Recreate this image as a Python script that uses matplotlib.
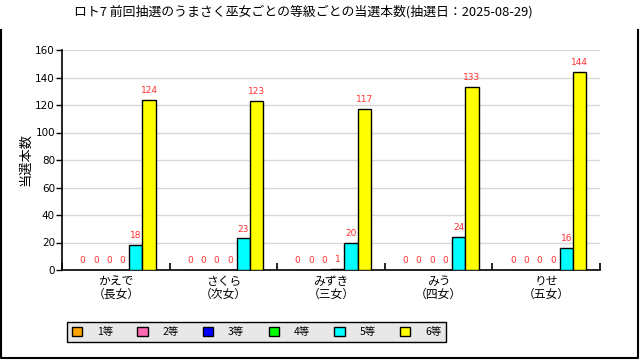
import numpy as np
import matplotlib
matplotlib.use('Agg')
import matplotlib.pyplot as plt
from matplotlib.patches import Rectangle
from matplotlib.lines import Line2D

plt.rcParams['font.family'] = ['Noto Sans CJK JP', 'DejaVu Sans']

miko = ['かえで\n（長女）', 'さくら\n（次女）', 'みずき\n（三女）', 'みう\n（四女）', 'りせ\n（五女）']
grades = ['1等', '2等', '3等', '4等', '5等', '6等']
colors = ['#FFA500', '#FF69B4', '#0000FF', '#00FF00', '#00FFFF', '#FFFF00']

# rows = grade, cols = miko
counts = np.array([
    [0, 0, 0, 0, 0],
    [0, 0, 0, 0, 0],
    [0, 0, 0, 0, 0],
    [0, 0, 1, 0, 0],
    [18, 23, 20, 24, 16],
    [124, 123, 117, 133, 144],
])

fig = plt.figure(figsize=(6.4, 3.6), dpi=100)
ax = fig.add_axes([62 / 640, 90 / 360, 538 / 640, 220 / 360])

x = np.arange(len(miko))
w = 0.124
for i, g in enumerate(grades):
    pos = x + (i - 2.5) * w
    ax.bar(pos, counts[i], width=w, color=colors[i], edgecolor='black',
           linewidth=1, label=g, zorder=3)
    for px, v in zip(pos, counts[i]):
        ax.annotate(str(v), (px, v), xytext=(0, 3.5), textcoords='offset points',
                    ha='center', va='bottom', fontsize=6.5, color='#FF3030',
                    family='DejaVu Sans')

ax.set_xlim(-0.5, len(miko) - 0.5)
ax.set_ylim(0, 160)
ax.set_yticks(np.arange(0, 161, 20))
ax.yaxis.grid(True, color='#d8d8d8', linewidth=1, zorder=0)
ax.set_axisbelow(True)
ax.spines['top'].set_visible(False)
ax.spines['right'].set_visible(False)
ax.spines['left'].set_linewidth(1.2)
ax.spines['bottom'].set_linewidth(1.2)
ax.tick_params(axis='y', direction='out', length=4, width=1, labelsize=7.5, pad=1)
for t in ax.get_yticklabels():
    t.set_family('DejaVu Sans')

ax.set_xticks(x)
ax.set_xticklabels(miko, fontsize=8.5, linespacing=0.95)
ax.tick_params(axis='x', which='major', length=0, pad=3.5)
ax.set_xticks(np.arange(len(miko) + 1) - 0.5, minor=True)
ax.tick_params(axis='x', which='minor', direction='in', length=5, width=1.2)

ax.set_ylabel('当選本数', fontsize=9.5, labelpad=2.5)

fig.text(303 / 640, 1 - 12 / 360, 'ロト7 前回抽選のうまさく巫女ごとの等級ごとの当選本数(抽選日：2025-08-29)',
         ha='center', va='center', fontsize=9.3)

# outer frame
fx0, fx1 = 1 / 640, 638 / 640
fy0, fy1 = 1 - 358 / 360, 1 - 30 / 360
fig.add_artist(Line2D([fx0, fx0, fx1, fx1], [fy1, fy0, fy0, fy1],
                      transform=fig.transFigure, color='black', linewidth=1.5))

handles = [Rectangle((0, 0), 1, 1, facecolor=c, edgecolor='black', linewidth=1) for c in colors]
leg = fig.legend(handles, grades, loc='center', bbox_to_anchor=(256.5 / 640, 1 - 332 / 360),
                 ncol=6, fontsize=7.5, frameon=True, fancybox=False,
                 handlelength=1.0, handleheight=1.0, handletextpad=1.4,
                 columnspacing=2.35, borderpad=0.45)
leg.get_frame().set_facecolor('#e8e8e8')
leg.get_frame().set_edgecolor('black')
leg.get_frame().set_linewidth(1)
leg.get_frame().set_alpha(1)

fig.savefig('out.png', dpi=100)
